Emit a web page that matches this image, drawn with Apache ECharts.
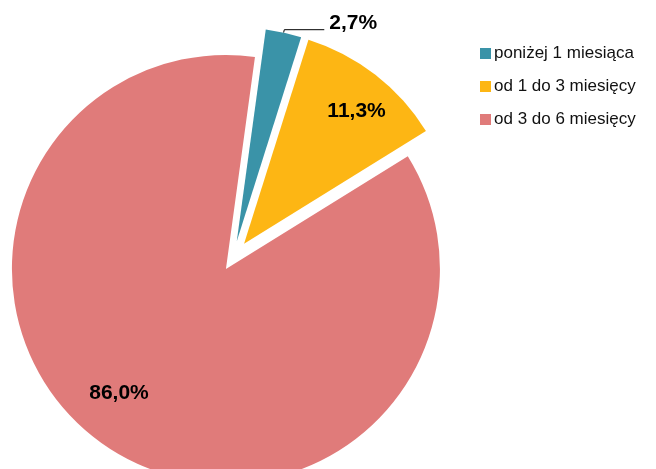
<!DOCTYPE html>
<html><head><meta charset="utf-8">
<script src="https://cdn.jsdelivr.net/npm/echarts@6/dist/echarts.min.js"></script>
<style>html,body{margin:0;padding:0;background:#fff}#c{width:656px;height:469px}</style>
</head><body><div id="c"></div>
<script>
const categories = ['poniżej 1 miesiąca', 'od 1 do 3 miesięcy', 'od 3 do 6 miesięcy'];
const values = [2.7, 11.3, 86.0];
const colors = ['#3A93A8', '#FDB614', '#E07B7A'];
const explode = [17, 18, 13];

const firstAngle = 7.8;           // degrees clockwise from 12 o'clock
const C = [233, 258];
const R = 214;
const total = values.reduce((a, b) => a + b, 0);
let acc = 0;
const mids = values.map(v => { const m = firstAngle + (acc + v / 2) / total * 360; acc += v; return m; });
const fmt = v => v.toFixed(1).replace('.', ',') + '%';

const labelCfg = [
  { position: 'outside', distanceToLabelLine: 3 },
  { position: 'inside' },
  { position: 'inside' }
];
const labelShift = [[2, -6], [45, -46], [-47, 32]];

const series = values.map((_, i) => {
  const rad = mids[i] * Math.PI / 180;
  const cx = C[0] + explode[i] * Math.sin(rad);
  const cy = C[1] - explode[i] * Math.cos(rad);
  return {
    type: 'pie',
    center: [cx, cy],
    radius: [0, R],
    startAngle: 90 - firstAngle,
    clockwise: true,
    avoidLabelOverlap: false,
    animation: false,
    labelLine: { show: i === 0, length: 3, length2: 40, smooth: false, lineStyle: { color: '#000', width: 1 } },
    labelLayout: { dx: labelShift[i][0], dy: labelShift[i][1] },
    data: categories.map((name, j) => ({
      name,
      value: values[j],
      itemStyle: { color: j === i ? colors[j] : 'rgba(0,0,0,0)' },
      label: Object.assign({
        show: j === i,
        formatter: p => fmt(p.value),
        fontFamily: 'Liberation Sans, Arial, sans-serif',
        fontWeight: 'bold',
        fontSize: 21,
        color: '#000'
      }, labelCfg[i]),
      labelLine: { show: j === i && i === 0 },
      emphasis: { disabled: true }
    })),
    silent: true
  };
});

const chart = echarts.init(document.getElementById('c'), null, { renderer: 'canvas' });
chart.setOption({
  animation: false,
  legend: {
    orient: 'vertical',
    left: 475,
    top: 40,
    icon: 'rect',
    itemWidth: 11,
    itemHeight: 11,
    itemGap: 16,
    selectedMode: false,
    textStyle: { fontFamily: 'Liberation Sans, Arial, sans-serif', fontSize: 17, color: '#111', padding: [0, 0, 0, -2] },
    data: categories.map((name, j) => ({ name, itemStyle: { color: colors[j] } }))
  },
  series
});
</script></body></html>
